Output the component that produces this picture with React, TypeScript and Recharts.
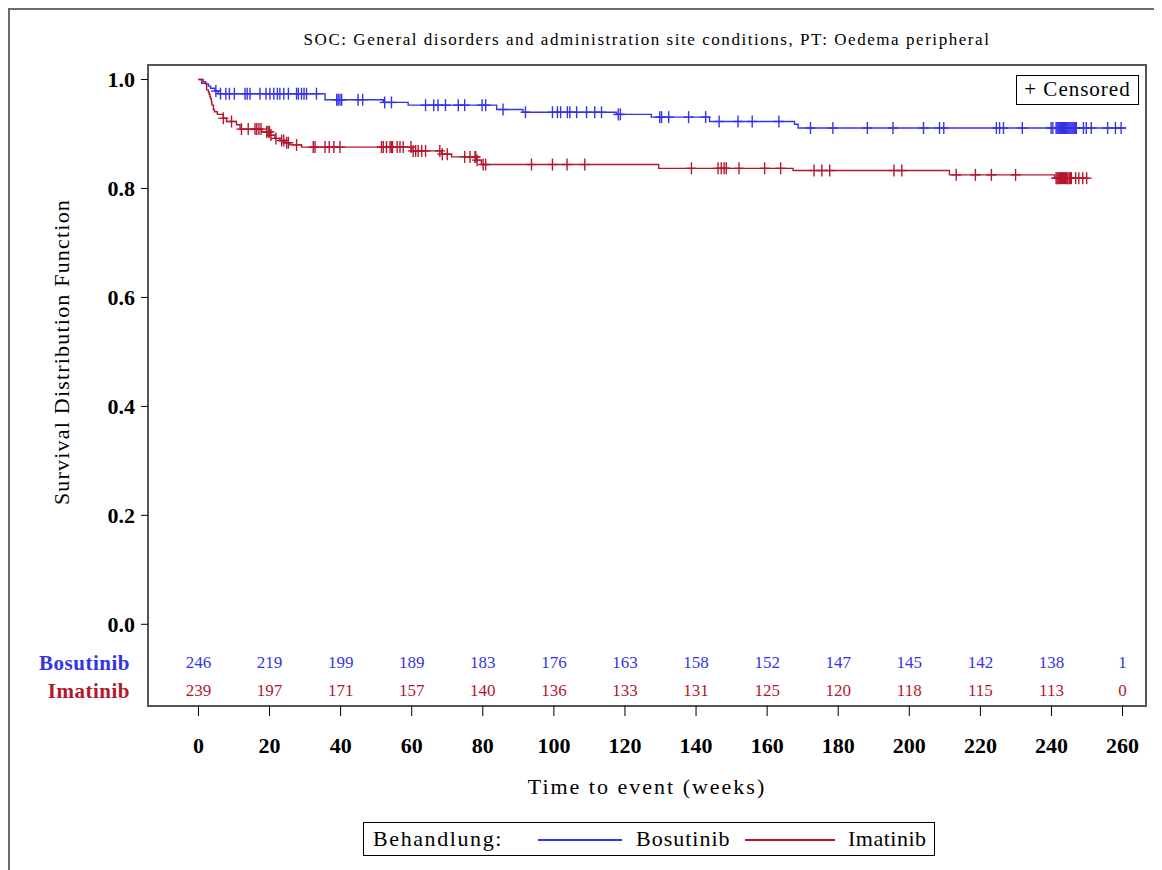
import React from 'react';
import { ComposedChart, Line, Scatter, XAxis, YAxis, ReferenceArea } from 'recharts';

const FONT = '"Liberation Serif", "Times New Roman", serif';
const BLUE = '#3434e6';
const RED = '#b5162e';

// Kaplan-Meier steps: week where the estimate changes and the new value
const bosStepWeeks = [0, 1.3, 2.0, 2.8, 3.4, 4.6, 5.6, 35.6, 52.0, 59.0, 83.9, 91.3, 117.6, 127.4, 143.8, 167.7, 168.7, 261.0];
const bosStepSurv = [1.0, 0.996, 0.992, 0.988, 0.984, 0.979, 0.974, 0.963, 0.958, 0.953, 0.945, 0.94, 0.936, 0.931, 0.923, 0.918, 0.911, 0.911];

const imaStepWeeks = [0, 0.9, 2.3, 2.8, 3.0, 3.2, 3.4, 3.6, 3.7, 3.8, 4.2, 4.5, 5.3, 7.0, 7.9, 10.7, 11.7, 17.8, 20.1, 21.5, 22.9, 24.3, 25.7, 29.0, 60.0, 68.4, 71.2, 78.2, 79.6, 129.5, 167.3, 211.3, 240.9, 250.5];
const imaStepSurv = [1.0, 0.993, 0.981, 0.977, 0.973, 0.969, 0.965, 0.961, 0.957, 0.953, 0.945, 0.941, 0.936, 0.929, 0.923, 0.917, 0.909, 0.904, 0.898, 0.892, 0.888, 0.884, 0.88, 0.876, 0.869, 0.863, 0.858, 0.852, 0.844, 0.837, 0.833, 0.825, 0.819, 0.819];

// censoring times (weeks)
const bosCensorWeeks = [4.9, 6.2, 7.7, 8.7, 10.1, 13.1, 13.7, 14.5, 17.3, 19.0, 20.1, 21.2, 22.2, 22.9, 24.0, 25.3, 27.6, 28.1, 29.0, 29.7, 30.4, 33.2, 38.9, 39.3, 39.8, 40.3, 44.9, 46.2, 52.4, 54.3, 63.9, 66.2, 67.4, 69.5, 73.1, 74.9, 79.8, 80.8, 85.7, 92.0, 99.6, 101.0, 101.9, 103.8, 104.5, 106.4, 109.2, 111.5, 113.4, 118.1, 118.7, 129.8, 130.3, 132.3, 137.9, 142.7, 146.5, 151.8, 155.8, 163.3, 172.2, 178.5, 188.2, 195.4, 204.0, 208.5, 209.7, 224.5, 225.4, 226.5, 231.8, 239.9, 240.4, 241.3, 241.6, 241.9, 242.2, 242.5, 242.8, 243.1, 243.4, 243.7, 244.0, 244.3, 244.6, 244.9, 245.2, 245.5, 245.8, 246.1, 246.4, 246.7, 247.0, 249.0, 249.8, 251.2, 255.8, 258.0, 259.6];
const imaCensorWeeks = [7.0, 9.3, 12.1, 14.0, 15.9, 16.4, 17.0, 17.6, 19.2, 19.6, 20.0, 20.4, 21.8, 23.4, 24.0, 24.8, 25.3, 27.6, 32.3, 32.8, 35.6, 36.8, 38.1, 39.8, 51.5, 52.0, 52.9, 53.9, 54.3, 54.6, 55.9, 56.7, 57.6, 59.8, 60.4, 61.1, 61.8, 62.8, 63.9, 67.9, 68.6, 70.0, 74.9, 76.4, 77.8, 78.0, 78.4, 80.1, 80.8, 93.7, 99.6, 103.7, 108.7, 138.7, 146.2, 147.1, 147.9, 148.5, 152.1, 159.3, 163.8, 173.2, 175.4, 177.6, 195.7, 197.9, 213.2, 218.6, 223.1, 229.9, 241.3, 241.6, 241.9, 242.2, 242.5, 242.8, 243.1, 243.4, 243.7, 244.0, 244.3, 244.6, 245.0, 245.3, 245.6, 246.8, 247.7, 248.8, 249.9];

// number at risk table
const riskWeeks = [0, 20, 40, 60, 80, 100, 120, 140, 160, 180, 200, 220, 240, 260];
const bosAtRisk = [246, 219, 199, 189, 183, 176, 163, 158, 152, 147, 145, 142, 138, 1];
const imaAtRisk = [239, 197, 171, 157, 140, 136, 133, 131, 125, 120, 118, 115, 113, 0];
const groupNames = ['Bosutinib', 'Imatinib'];
const groupColors = [BLUE, RED];
const riskRowY = [-0.07, -0.121];

const xTicks = [0, 20, 40, 60, 80, 100, 120, 140, 160, 180, 200, 220, 240, 260];
const yTicks = [0, 0.2, 0.4, 0.6, 0.8, 1.0];
const X_DOMAIN = [-14.2, 266.6];
const Y_DOMAIN = [-0.15, 1.0267];

const survAt = (weeks: number[], surv: number[], t: number) => {
  let s = surv[0];
  weeks.forEach((w, i) => {
    if (w <= t) s = surv[i];
  });
  return s;
};

const bosCurve = bosStepWeeks.map((t, i) => ({ t, S: bosStepSurv[i] }));
const imaCurve = imaStepWeeks.map((t, i) => ({ t, S: imaStepSurv[i] }));
const bosCensored = bosCensorWeeks.map((t) => ({ t, S: survAt(bosStepWeeks, bosStepSurv, t) }));
const imaCensored = imaCensorWeeks.map((t) => ({ t, S: survAt(imaStepWeeks, imaStepSurv, t) }));
const bosRiskRow = riskWeeks.map((t, i) => ({ t, S: riskRowY[0], n: bosAtRisk[i] }));
const imaRiskRow = riskWeeks.map((t, i) => ({ t, S: riskRowY[1], n: imaAtRisk[i] }));

const plusMark = (color: string) => (p: any) => (
  <g stroke={color} strokeWidth={1.4}>
    <line x1={p.cx} x2={p.cx} y1={p.cy - 6} y2={p.cy + 6} />
    <line x1={p.cx - 5} x2={p.cx + 5} y1={p.cy} y2={p.cy} />
  </g>
);

const riskCount = (color: string) => (p: any) => (
  <text x={p.cx} y={p.cy} dy="0.35em" textAnchor="middle" fill={color} fontSize={17} fontFamily={FONT}>
    {p.payload?.n}
  </text>
);

const YTick = (props: any) => {
  const { x, y, payload } = props;
  const row = riskRowY.indexOf(payload.value);
  if (row >= 0) {
    return (
      <text x={x - 6} y={y} dy="0.35em" textAnchor="end" fill={groupColors[row]} fontSize={21} fontWeight="bold" fontFamily={FONT} letterSpacing={0.5}>
        {groupNames[row]}
      </text>
    );
  }
  return (
    <g>
      <line x1={x + 5} x2={x + 12} y1={y} y2={y} stroke="#000" />
      <text x={x - 1} y={y} dy="0.35em" textAnchor="end" fill="#000" fontSize={22} fontWeight="bold" fontFamily={FONT}>
        {payload.value.toFixed(1)}
      </text>
    </g>
  );
};

export default function App() {
  return (
    <div style={{ position: 'relative', width: 1154, height: 862, fontFamily: FONT, color: '#000' }}>
      <ComposedChart width={1154} height={862} margin={{ top: 57, right: 16, bottom: 64, left: 0 }}>
        <XAxis
          type="number"
          dataKey="t"
          domain={X_DOMAIN}
          ticks={xTicks}
          interval={0}
          allowDataOverflow
          axisLine={false}
          tickSize={10}
          tickMargin={21}
          tickLine={{ stroke: '#000' }}
          tick={{ fontSize: 22, fill: '#000', fontFamily: FONT, fontWeight: 'bold' }}
          height={100}
        />
        <YAxis
          type="number"
          dataKey="S"
          domain={Y_DOMAIN}
          ticks={[riskRowY[1], riskRowY[0], ...yTicks]}
          interval={0}
          allowDataOverflow
          axisLine={false}
          tickLine={false}
          tickSize={7}
          tickMargin={5}
          tick={<YTick />}
          width={140}
        />
        <ReferenceArea
          x1={X_DOMAIN[0]}
          x2={X_DOMAIN[1]}
          y1={Y_DOMAIN[0]}
          y2={Y_DOMAIN[1]}
          fill="none"
          stroke="#555"
          strokeWidth={2}
          ifOverflow="visible"
        />
        <Line data={bosCurve} dataKey="S" type="stepAfter" stroke={BLUE} strokeWidth={1.4} dot={false} isAnimationActive={false} />
        <Line data={imaCurve} dataKey="S" type="stepAfter" stroke={RED} strokeWidth={1.4} dot={false} isAnimationActive={false} />
        <Scatter data={bosCensored} dataKey="S" shape={plusMark(BLUE)} isAnimationActive={false} />
        <Scatter data={imaCensored} dataKey="S" shape={plusMark(RED)} isAnimationActive={false} />
        <Scatter data={bosRiskRow} dataKey="S" shape={riskCount(BLUE)} isAnimationActive={false} />
        <Scatter data={imaRiskRow} dataKey="S" shape={riskCount(RED)} isAnimationActive={false} />
      </ComposedChart>

      {/* outer frame: only the top and left edges fall inside the page */}
      <div style={{ position: 'absolute', left: 0, top: 0, width: 1154, height: 862, borderTop: '2px solid #6b6b6b', borderLeft: '2px solid #6b6b6b', boxSizing: 'border-box', pointerEvents: 'none' }} />

      <div style={{ position: 'absolute', left: 139, top: 21, width: 1000, textAlign: 'center', fontSize: 17, lineHeight: '22px', letterSpacing: 1.55 }}>
        SOC: General disorders and administration site conditions, PT: Oedema peripheral
      </div>

      <div style={{ position: 'absolute', left: 54 - 200, top: 344 - 13, width: 400, height: 26, lineHeight: '26px', textAlign: 'center', fontSize: 22, transform: 'rotate(-90deg)', letterSpacing: 1.2 }}>
        Survival Distribution Function
      </div>

      <div style={{ position: 'absolute', left: 139, top: 766, width: 1000, textAlign: 'center', fontSize: 22, lineHeight: '26px', letterSpacing: 2 }}>
        Time to event (weeks)
      </div>

      <div style={{ position: 'absolute', left: 1008, top: 67, width: 123, height: 30, border: '1.5px solid #000', boxSizing: 'border-box', fontSize: 21, lineHeight: '27px', textAlign: 'center', letterSpacing: 1 }}>
        + Censored
      </div>

      <div style={{ position: 'absolute', left: 355, top: 814, width: 572, height: 34, border: '1.5px solid #000', boxSizing: 'border-box', fontSize: 22, lineHeight: '31px' }}>
        <span style={{ position: 'absolute', left: 9, letterSpacing: 1.6 }}>Behandlung:</span>
        <div style={{ position: 'absolute', left: 174, top: 16, width: 84, height: 1.5, background: BLUE }} />
        <span style={{ position: 'absolute', left: 272, letterSpacing: 1 }}>{groupNames[0]}</span>
        <div style={{ position: 'absolute', left: 381, top: 16, width: 90, height: 1.5, background: RED }} />
        <span style={{ position: 'absolute', left: 484, letterSpacing: 0.5 }}>{groupNames[1]}</span>
      </div>
    </div>
  );
}
